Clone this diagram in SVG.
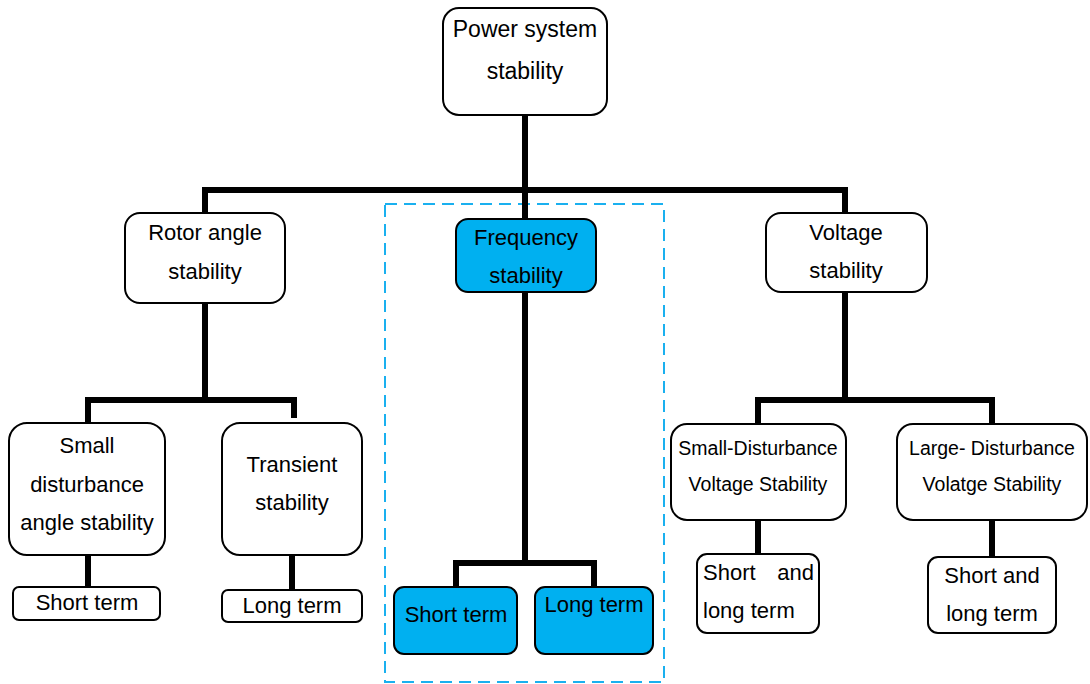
<svg xmlns="http://www.w3.org/2000/svg" width="1090" height="684" viewBox="0 0 1090 684">
<style>
  .box{fill:#fff;stroke:#000;stroke-width:2}
  .blue{fill:#00b0f0;stroke:#000;stroke-width:2}
  .t{font-family:"Liberation Sans",Arial,sans-serif;font-size:22px;fill:#000;text-anchor:middle}
  .s{font-size:19.5px}
  .c{fill:none;stroke:#000;stroke-width:6;stroke-linecap:butt;stroke-linejoin:miter}
  .dash{fill:none;stroke:#1ab0ef;stroke-width:2;stroke-dasharray:12 7}
</style>
<rect width="1090" height="684" fill="#fff"/>
<rect class="dash" x="385" y="204" width="279" height="478"/>
<g id="connectors">
  <path class="c" d="M525 115V190M205 213V190H845V213M525 190V219"/>
  <path class="c" d="M205 303V400M88 425V400H294V418M88 555V587M292 555V590"/>
  <path class="c" d="M525 292V563M456 587V563H594V587"/>
  <path class="c" d="M845 292V400M758 425V400H992V425M758 520V554M992 520V557"/>
</g>
<g id="power"><rect class="box" x="443" y="8" width="164" height="107" rx="16"/><text class="t" x="525" y="37" style="font-size:23px">Power system</text><text class="t" x="525" y="79" style="font-size:23px">stability</text></g>
<g id="rotor"><rect class="box" x="125" y="213" width="160" height="90" rx="15"/><text class="t" x="205" y="240">Rotor angle</text><text class="t" x="205" y="279">stability</text></g>
<g id="frequency"><rect class="blue" x="456" y="219" width="140" height="73" rx="12"/><text class="t" x="526" y="245">Frequency</text><text class="t" x="526" y="283">stability</text></g>
<g id="voltage"><rect class="box" x="766" y="213" width="161" height="79" rx="15"/><text class="t" x="846" y="240">Voltage</text><text class="t" x="846" y="278">stability</text></g>
<g id="small-angle"><rect class="box" x="9" y="423" width="156" height="132" rx="18"/><text class="t" x="87" y="453">Small</text><text class="t" x="87" y="492">disturbance</text><text class="t" x="87" y="530">angle stability</text></g>
<g id="transient"><rect class="box" x="222" y="423" width="140" height="132" rx="18"/><text class="t" x="292" y="472">Transient</text><text class="t" x="292" y="510">stability</text></g>
<g id="short-term-angle"><rect class="box" x="13" y="587" width="147" height="33" rx="6"/><text class="t" x="87" y="610">Short term</text></g>
<g id="long-term-angle"><rect class="box" x="222" y="590" width="140" height="32" rx="6"/><text class="t" x="292" y="613">Long term</text></g>
<g id="short-term-freq"><rect class="blue" x="394" y="587" width="123" height="67" rx="10"/><text class="t" x="456" y="622">Short term</text></g>
<g id="long-term-freq"><rect class="blue" x="535" y="587" width="118" height="67" rx="10"/><text class="t" x="594" y="612">Long term</text></g>
<g id="small-voltage"><rect class="box" x="671" y="424" width="175" height="96" rx="16"/><text class="t s" x="758" y="455">Small-Disturbance</text><text class="t s" x="758" y="491">Voltage Stability</text></g>
<g id="large-voltage"><rect class="box" x="897" y="424" width="190" height="96" rx="16"/><text class="t s" x="992" y="455">Large- Disturbance</text><text class="t s" x="992" y="491">Volatge Stability</text></g>
<g id="short-long-1"><rect class="box" x="697" y="554" width="122" height="79" rx="10"/><text class="t" x="703" y="580" style="text-anchor:start">Short</text><text class="t" x="814" y="580" style="text-anchor:end">and</text><text class="t" x="703" y="618" style="text-anchor:start">long term</text></g>
<g id="short-long-2"><rect class="box" x="928" y="557" width="128" height="76" rx="10"/><text class="t" x="992" y="583">Short and</text><text class="t" x="992" y="621">long term</text></g>
</svg>
